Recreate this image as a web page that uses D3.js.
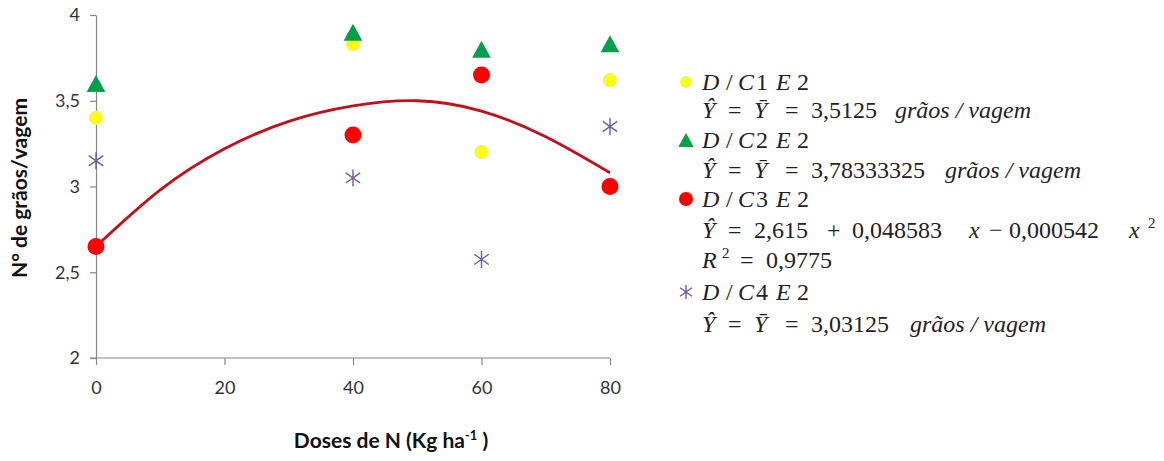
<!DOCTYPE html>
<html>
<head>
<meta charset="utf-8">
<script src="https://cdn.jsdelivr.net/npm/d3@7"></script>
<style>
  body { margin: 0; background: #fff; }
  svg { display: block; }
</style>
</head>
<body>
<div id="chart"></div>
<script>
// dados
var doses = [0, 40, 60, 80];
var c1 = [3.4, 3.83, 3.2, 3.62];    // D/C1E2 amarelo
var c2 = [3.6, 3.9, 3.8, 3.833];    // D/C2E2 verde
var c3 = [2.65, 3.3, 3.65, 3.0];    // D/C3E2 vermelho
var c4 = [3.15, 3.05, 2.575, 3.35]; // D/C4E2 estrela
// curva ajustada
var curvaX = [0, 10, 20, 30, 40, 50, 60, 70, 80];
var curvaY = [2.65, 2.98, 3.22, 3.38, 3.47, 3.50, 3.44, 3.29, 3.08];
var xTicks = [0, 20, 40, 60, 80];
var yTicks = [2, 2.5, 3, 3.5, 4];

var width = 1164, height = 461;

var svg = d3.select("#chart").append("svg")
  .attr("width", width)
  .attr("height", height);

svg.append("rect").attr("width", width).attr("height", height).attr("fill", "#fff");

var x = d3.scaleLinear().domain([0, 80]).range([96, 610]);
var y = d3.scaleLinear().domain([2, 4]).range([358, 15]);

var fmt = function(d) { return String(d).replace(".", ","); };

// eixos
var gx = svg.append("g")
  .attr("transform", "translate(0," + y(2) + ")")
  .call(d3.axisBottom(x).tickValues(xTicks).tickSize(7).tickSizeOuter(0).tickPadding(16).tickFormat(fmt));
var gy = svg.append("g")
  .attr("transform", "translate(" + x(0) + ",0)")
  .call(d3.axisLeft(y).tickValues(yTicks).tickSize(6).tickSizeOuter(0).tickPadding(10).tickFormat(fmt));

[gx, gy].forEach(function(g) {
  g.selectAll(".domain, line").attr("stroke", "#888").attr("stroke-width", 1.2);
  g.selectAll("text")
    .style("font-family", "Lato, 'Open Sans', sans-serif")
    .style("font-size", "18px")
    .attr("fill", "#333");
});
gx.select(".domain").attr("d", "M" + (x(0) - 6) + ",0H" + x(80));

// curva vermelha
var linha = d3.line()
  .x(function(d) { return x(d[0]); })
  .y(function(d) { return y(d[1]); })
  .curve(d3.curveNatural);

svg.append("path")
  .datum(d3.zip(curvaX, curvaY))
  .attr("d", linha)
  .attr("fill", "none")
  .attr("stroke", "#C0101C")
  .attr("stroke-width", 2.8);

// marcadores
var starPath = function(s) {
  return "M0," + (-s) + "V" + s +
    "M" + (-s * 0.85) + "," + (-s * 0.6) + "L" + (s * 0.85) + "," + (s * 0.6) +
    "M" + (-s * 0.85) + "," + (s * 0.6) + "L" + (s * 0.85) + "," + (-s * 0.6);
};
var triPath = function(s) {
  return "M0," + (-s) + "L" + (s * 1.1) + "," + s + "L" + (-s * 1.1) + "," + s + "Z";
};

function desenha(g, tipo, tam) {
  if (tipo === "c1") {
    g.append("circle").attr("r", tam * 0.75).attr("fill", "#FFFF00")
      .attr("stroke", "#F4F066").attr("stroke-width", 1.5);
  } else if (tipo === "c2") {
    g.append("path").attr("d", triPath(tam)).attr("fill", "#00A04A");
  } else if (tipo === "c3") {
    g.append("circle").attr("r", tam).attr("fill", "#FF0000");
  } else {
    g.append("path").attr("d", starPath(tam)).attr("fill", "none")
      .attr("stroke", "#7457A6").attr("stroke-width", 1.4);
  }
}

var series = [["c1", c1], ["c2", c2], ["c3", c3], ["c4", c4]];
series.forEach(function(s) {
  svg.selectAll("g.p" + s[0])
    .data(d3.zip(doses, s[1]))
    .enter()
    .append("g")
    .attr("class", "p" + s[0])
    .attr("transform", function(d) { return "translate(" + x(d[0]) + "," + y(d[1]) + ")"; })
    .each(function() { desenha(d3.select(this), s[0], 8.5); });
});

// títulos dos eixos
svg.append("text")
  .attr("transform", "translate(27,188) rotate(-90)")
  .attr("text-anchor", "middle")
  .style("font-family", "Lato, 'Open Sans', sans-serif")
  .style("font-weight", "bold")
  .style("font-size", "21px")
  .attr("fill", "#111")
  .text("N° de grãos/vagem");

var xt = svg.append("text")
  .attr("x", 391)
  .attr("y", 448)
  .attr("text-anchor", "middle")
  .style("font-family", "Lato, 'Open Sans', sans-serif")
  .style("font-weight", "bold")
  .style("font-size", "21px")
  .attr("fill", "#111");
xt.append("tspan").text("Doses de N (Kg ha");
xt.append("tspan").attr("dy", -8).style("font-size", "13px").text("-1");
xt.append("tspan").attr("dy", 8).text(" )");

// legenda (texto em estilo de equação)
var leg = svg.append("g").style("font-family", "'Liberation Serif', 'Times New Roman', serif")
  .style("font-size", "24px").attr("fill", "#222");

function linhaLeg(yb, tokens) {
  tokens.forEach(function(t) {
    var tx = leg.append("text").attr("x", t[0]).attr("y", yb - (t[3] || 0)).text(t[1]);
    if (t[2]) tx.style("font-style", "italic");
    if (t[3]) tx.style("font-size", "15px");
  });
}
function titulo(yb, n) {
  linhaLeg(yb, [[702, "D", 1], [726, "/", 0], [738, "C", 1], [756, n, 0], [776, "E", 1], [797, "2", 0]]);
}
function media(yb, valor, xg) {
  linhaLeg(yb, [[702, "Ŷ", 1], [728, "=", 0], [754, "Ȳ", 1], [785, "=", 0], [811, valor, 0], [xg, "grãos / vagem", 1]]);
}

var legY = [90, 148, 207, 300];
var legTipos = ["c1", "c2", "c3", "c4"];
legTipos.forEach(function(t, i) {
  var g = svg.append("g").attr("transform", "translate(686," + (legY[i] - 8) + ")");
  desenha(g, t, 7);
});

titulo(90, "1");
media(118, "3,5125", 895);
titulo(148, "2");
media(178, "3,78333325", 945);
titulo(207, "3");
linhaLeg(238, [[702, "Ŷ", 1], [728, "=", 0], [754, "2,615", 0], [827, "+", 0], [852, "0,048583", 0],
  [969, "x", 1], [989, "−", 0], [1009, "0,000542", 0], [1129, "x", 1], [1148, "2", 0, 10]]);
linhaLeg(268, [[702, "R", 1], [722, "2", 0, 10], [740, "=", 0], [766, "0,9775", 0]]);
titulo(300, "4");
media(332, "3,03125", 910);
</script>
</body>
</html>
